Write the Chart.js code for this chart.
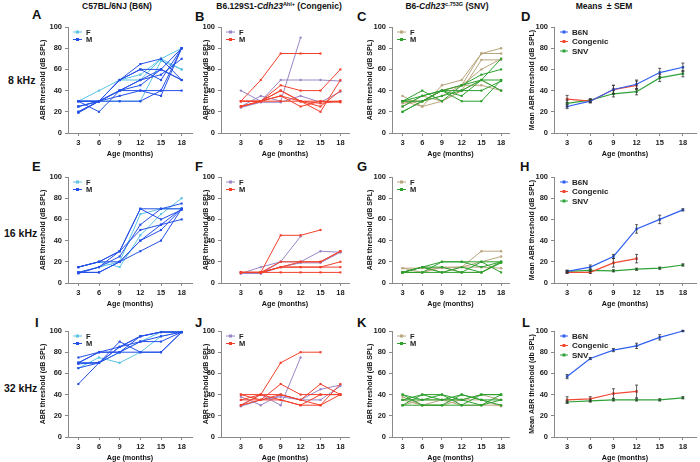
<!DOCTYPE html>
<html>
<head>
<meta charset="utf-8">
<script src="https://cdn.jsdelivr.net/npm/chart.js@4.4.0/dist/chart.umd.min.js"></script>
<style>
body{margin:0;background:#fff;width:700px;height:462px;overflow:hidden;position:relative;font-family:"Liberation Sans",Arial,sans-serif;color:#111;}
.abs{position:absolute;white-space:nowrap;line-height:1;}
.ttl{font-weight:bold;font-size:8.5px;transform:translateX(-50%);}
.ttl sup{font-size:5.5px;vertical-align:3px;}
.let{font-weight:bold;font-size:13px;}
.row{font-weight:bold;font-size:10.5px;}
canvas{position:absolute;}
</style>
</head>
<body>
<div class="abs ttl" style="left:117px;top:2px">C57BL/6NJ (B6N)</div>
<div class="abs ttl" style="left:279px;top:2px">B6.129S1-<i>Cdh23</i><sup>Ahl+</sup> (Congenic)</div>
<div class="abs ttl" style="left:447px;top:2px">B6-<i>Cdh23</i><sup>c.753G</sup> (SNV)</div>
<div class="abs ttl" style="left:604px;top:2px">Means &nbsp;± SEM</div>

<div class="abs row" style="left:8px;top:75px">8 kHz</div>
<div class="abs row" style="left:4px;top:228px">16 kHz</div>
<div class="abs row" style="left:4px;top:383px">32 kHz</div>

<div class="abs let" style="left:32px;top:8px">A</div>
<div class="abs let" style="left:195px;top:10px">B</div>
<div class="abs let" style="left:357px;top:10px">C</div>
<div class="abs let" style="left:521px;top:10px">D</div>
<div class="abs let" style="left:32px;top:160px">E</div>
<div class="abs let" style="left:195px;top:160px">F</div>
<div class="abs let" style="left:357px;top:160px">G</div>
<div class="abs let" style="left:520px;top:160px">H</div>
<div class="abs let" style="left:35px;top:316px">I</div>
<div class="abs let" style="left:195px;top:316px">J</div>
<div class="abs let" style="left:357px;top:316px">K</div>
<div class="abs let" style="left:522px;top:316px">L</div>

<script>
// ===== DATA =====
const months = [3, 6, 9, 12, 15, 18];
const yTickStep = 20;

// 8 kHz
const b6n8F = [[30,40,50,50,70,60],[25,30,30,30,68,60],[30,30,50,55,70,80]];
const b6n8M = [[30,30,50,65,70,50],[25,30,40,50,60,80],[20,30,40,45,60,50],[20,30,30,30,40,40],
               [30,20,40,40,40,80],[30,30,35,40,35,80],[25,30,50,60,60,50],[30,30,40,50,55,70],[19,30,50,60,50,80]];
const con8F = [[40,30,50,50,50,49],[25,35,30,90,null,null],[24,29,29,35,29,39]];
const con8M = [[30,50,75,75,75,null],[30,30,45,40,40,60],[25,30,40,30,20,50],[25,30,35,25,30,30],
               [30,30,30,30,30,29],[25,30,35,30,25,40],[30,30,40,30,28,30]];
const snv8F = [[35,25,45,50,75,80],[30,30,40,45,75,75],[25,35,30,40,69,69],[28,30,35,45,60,70],[30,25,30,40,50,40],[30,30,40,45,45,40]];
const snv8M = [[30,40,30,45,50,70],[20,30,40,45,55,60],[25,35,40,30,30,50],[30,30,40,35,50,40],[30,35,40,40,40,49],[20,30,35,40,50,50]];
const b6n8Mean = [25,30,41,46,57,62], b6n8Sem = [2,1.5,4,4,4,4];
const con8Mean = [32,30,41,45,null,null], con8Sem = [3.5,1.5,4,4,null,null];
const snv8Mean = [28,31,37,39,52,56], snv8Sem = [3,1.5,3,3,3.5,3];

// 16 kHz
const b6n16F = [[15,20,15,45,65,80],[10,15,20,65,70,70]];
const b6n16M = [[15,20,30,70,70,75],[10,10,20,30,40,70],[10,15,25,55,70,70],[15,20,30,50,55,60],
                [10,10,20,40,50,70],[9,15,30,70,60,69],[15,20,20,40,55,70]];
const con16F = [[9,15,20,44,null,null],[9,9,20,20,30,29],[10,9,15,19,19,29]];
const con16M = [[10,10,45,45,50,null],[10,10,20,20,20,30],[10,10,15,20,20,30],[10,10,15,15,15,20],[10,10,10,10,10,10],[10,10,15,15,15,15]];
const snv16F = [[14,14,14,15,30,30],[10,10,15,15,20,25],[10,15,10,15,15,14],[14,10,15,10,10,20]];
const snv16M = [[10,15,20,20,15,20],[10,10,20,20,20,20],[10,15,15,10,20,10],[10,10,10,10,10,19],[10,15,10,15,10,20]];
const b6n16Mean = [11,15,25,51,60,69], b6n16Sem = [1,2,2,4,4,1];
const con16Mean = [10,10,19,23,null,null], con16Sem = [1,1,4,4,null,null];
const snv16Mean = [11,12,11.5,13,14,17], snv16Sem = [1,1,1,1,1,1];

// 32 kHz
const b6n32F = [[65,75,70,80,95,99],[70,70,80,90,99,99]];
const b6n32M = [[75,80,80,95,99,99],[70,80,85,95,99,99],[50,70,80,90,95,99],[70,70,90,80,80,99],
                [65,70,85,90,90,99],[70,80,80,80,80,99],[69,70,85,95,99,99]];
const con32F = [[30,40,30,75,null,null],[38,30,40,35,45,49],[29,35,38,35,35,48]];
const con32M = [[40,40,70,80,80,null],[35,35,50,40,40,40],[30,40,40,35,50,40],[30,35,35,30,30,50],[40,35,40,35,30,40],[35,40,35,30,40,40]];
const snv32F = [[30,35,35,30,30,30],[38,30,35,35,35,29],[35,30,30,35,40,35]];
const snv32M = [[40,35,40,35,40,40],[30,30,30,30,30,40],[35,35,35,40,35,35],[30,40,35,35,30,35],[40,30,30,40,35,30],[35,40,40,30,40,40]];
const b6n32Mean = [57,74,82,86,94,100], b6n32Sem = [2,1,1.5,2.5,2.5,0.5];
const con32Mean = [35,36,41,43,null,null], con32Sem = [3,2,4.5,6,null,null];
const snv32Mean = [33,34,35,35,35,37], snv32Sem = [1,1,1,1,1,1];

// ===== COLOURS / LAYOUT =====
const FONT = '"Liberation Sans", Arial, sans-serif';
const C = {
  b6nF: '#5cc4e4', b6nM: '#2450e8',
  conF: '#9a86c6', conM: '#f2402c',
  snvF: '#b8a57e', snvM: '#2ea02e',
  mB6N: '#2f5ff2', mCon: '#f04a35', mSnv: '#2fa23a'
};
const cols = [
  { L: 68,  R: 192, min: 1.5, max: 19.5, tPad: 10.5 },
  { L: 221, R: 349, min: 0,   max: 19.3, tPad: 21 },
  { L: 392, R: 509, min: 1.4, max: 19.2, tPad: 13.5 },
  { L: 554, R: 696, min: 1.3, max: 19.7, tPad: 13.5 }
];
const rows = [ { T: 27, B: 133 }, { T: 177, B: 283 }, { T: 331, B: 437 } ];

// ===== PLUGIN: LEGEND DI DALAM PLOT =====
const miniLegend = {
  id: 'miniLegend',
  afterDraw(chart, args, o) {
    if (!o.items) return;
    const ctx = chart.ctx, ca = chart.chartArea;
    ctx.save();
    o.items.forEach((it, i) => {
      const x = ca.left + o.x, y = ca.top + o.y + i * o.gap;
      ctx.strokeStyle = it.color; ctx.lineWidth = 1;
      ctx.beginPath(); ctx.moveTo(x, y); ctx.lineTo(x + o.w, y); ctx.stroke();
      ctx.fillStyle = it.color;
      ctx.fillRect(x + o.w / 2 - 1.5, y - 1.5, 3, 3);
      ctx.fillStyle = '#222';
      ctx.font = 'bold ' + o.size + 'px ' + FONT;
      ctx.textBaseline = 'middle';
      ctx.fillText(it.text, x + o.w + 4, y + 0.5);
    });
    ctx.restore();
  }
};

// ===== PLUGIN: ERROR BAR SEM =====
const errBars = {
  id: 'errBars',
  afterDatasetsDraw(chart) {
    const { ctx, scales: { x, y } } = chart;
    ctx.save();
    ctx.strokeStyle = '#333'; ctx.lineWidth = 0.8;
    chart.data.datasets.forEach(ds => {
      if (!ds.sem) return;
      ds.data.forEach((p, i) => {
        const s = ds.sem[i];
        if (p.y == null || s == null) return;
        const px = x.getPixelForValue(p.x);
        const y1 = y.getPixelForValue(p.y - s), y2 = y.getPixelForValue(p.y + s);
        ctx.beginPath();
        ctx.moveTo(px, y1); ctx.lineTo(px, y2);
        ctx.moveTo(px - 1.5, y1); ctx.lineTo(px + 1.5, y1);
        ctx.moveTo(px - 1.5, y2); ctx.lineTo(px + 1.5, y2);
        ctx.stroke();
      });
    });
    ctx.restore();
  }
};

function pts(vals) {
  return months.map((m, i) => ({ x: m, y: vals[i] }));
}

function lineSets(list, color, style, r) {
  return list.map(v => ({
    data: pts(v), borderColor: color, backgroundColor: color, borderWidth: 1,
    pointRadius: r, pointStyle: style, pointBorderWidth: 0, clip: false, spanGaps: false
  }));
}

function meanSet(vals, sem, color) {
  return {
    data: pts(vals), sem: sem, borderColor: color, backgroundColor: color, borderWidth: 1.2,
    pointRadius: 1.8, pointStyle: 'rect', pointBorderWidth: 0, clip: false, spanGaps: false
  };
}

// ===== BUAT PANEL =====
function panel(ci, ri, datasets, yTitle, legend) {
  const col = cols[ci], row = rows[ri];
  const cv = document.createElement('canvas');
  const W = col.R - col.L + 44, H = row.B - row.T + 38;
  cv.width = W; cv.height = H;
  cv.style.left = (col.L - 40) + 'px';
  cv.style.top = (row.T - 8) + 'px';
  document.body.appendChild(cv);

  new Chart(cv, {
    type: 'line',
    data: { datasets },
    plugins: [miniLegend, errBars],
    options: {
      responsive: false, animation: false, devicePixelRatio: 1,
      layout: { padding: { top: 8, right: 4, left: 0, bottom: 0 } },
      elements: { line: { tension: 0 } },
      plugins: { legend: { display: false }, tooltip: { enabled: false }, miniLegend: legend },
      scales: {
        x: {
          type: 'linear', min: col.min, max: col.max,
          afterBuildTicks: s => { s.ticks = months.map(v => ({ value: v })); },
          afterFit: s => { s.height = 30; },
          grid: { display: true, drawOnChartArea: false, drawTicks: true, tickLength: 3, color: '#888' },
          border: { color: '#8a8a8a', width: 1 },
          ticks: { font: { family: FONT, size: 7.5, weight: 'bold' }, color: '#222', padding: 2, maxRotation: 0, autoSkip: false },
          title: { display: true, text: 'Age (months)', color: '#111',
                   font: { family: FONT, size: 7.2, weight: 'bold' }, padding: { top: 0, bottom: 4.5 } }
        },
        y: {
          min: 0, max: 100,
          afterFit: s => { s.width = 40; },
          grid: { display: true, drawOnChartArea: false, drawTicks: true, tickLength: 3, color: '#888' },
          border: { color: '#8a8a8a', width: 1 },
          ticks: { stepSize: yTickStep, font: { family: FONT, size: 7.5, weight: 'bold' }, color: '#222', padding: 3 },
          title: { display: true, text: yTitle, color: '#111',
                   font: { family: FONT, size: 7, weight: 'bold' }, padding: { top: col.tPad, bottom: 0 } }
        }
      }
    }
  });
}

const ABR = 'ABR threshold (dB SPL)';
const legFM = (f, m) => ({ x: 5, y: 5, gap: 7.5, w: 9, size: 7.5,
  items: [{ text: 'F', color: f }, { text: 'M', color: m }] });
const legMean = { x: 6, y: 5, gap: 9.5, w: 8, size: 8,
  items: [{ text: 'B6N', color: C.mB6N }, { text: 'Congenic', color: C.mCon }, { text: 'SNV', color: C.mSnv }] };

const groups = [
  [b6n8F, b6n8M, con8F, con8M, snv8F, snv8M, [b6n8Mean, b6n8Sem], [con8Mean, con8Sem], [snv8Mean, snv8Sem], 'Mean ABR threshold (dB SPL)'],
  [b6n16F, b6n16M, con16F, con16M, snv16F, snv16M, [b6n16Mean, b6n16Sem], [con16Mean, con16Sem], [snv16Mean, snv16Sem], 'Mean ABR threshold (dB SPL)'],
  [b6n32F, b6n32M, con32F, con32M, snv32F, snv32M, [b6n32Mean, b6n32Sem], [con32Mean, con32Sem], [snv32Mean, snv32Sem], 'Mean ABR threshold (db SPL)']
];

// dataset pertama digambar paling atas -> M di atas F
groups.forEach((g, ri) => {
  panel(0, ri, [...lineSets(g[1], C.b6nM, 'rect', 1.5), ...lineSets(g[0], C.b6nF, 'circle', 1.2)], ABR, legFM(C.b6nF, C.b6nM));
  panel(1, ri, [...lineSets(g[3], C.conM, 'rect', 1.5), ...lineSets(g[2], C.conF, 'circle', 1.2)], ABR, legFM(C.conF, C.conM));
  panel(2, ri, [...lineSets(g[5], C.snvM, 'rect', 1.5), ...lineSets(g[4], C.snvF, 'circle', 1.2)], ABR, legFM(C.snvF, C.snvM));
  panel(3, ri, [meanSet(g[6][0], g[6][1], C.mB6N), meanSet(g[7][0], g[7][1], C.mCon), meanSet(g[8][0], g[8][1], C.mSnv)], g[9], legMean);
});
</script>
</body>
</html>
